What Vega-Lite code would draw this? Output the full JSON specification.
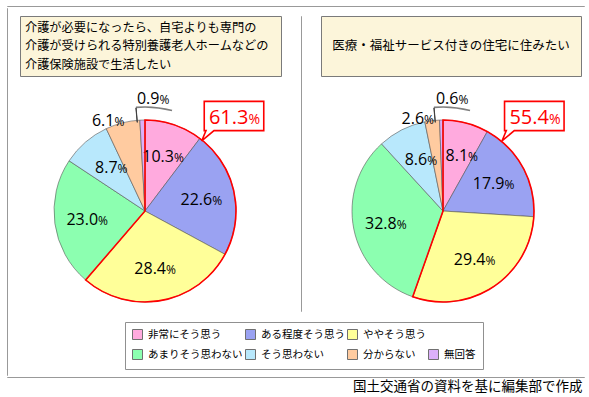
{
  "$schema": "https://vega.github.io/schema/vega-lite/v6.json",
  "background": "white",
  "padding": {"left": 6, "top": 5, "right": 5, "bottom": 4},
  "datasets": {
    "survey": [
      {"q": "施設", "cat": "非常にそう思う", "v": 10.3, "k": 1},
      {"q": "施設", "cat": "ある程度そう思う", "v": 22.6, "k": 2},
      {"q": "施設", "cat": "ややそう思う", "v": 28.4, "k": 3},
      {"q": "施設", "cat": "あまりそう思わない", "v": 23.0, "k": 4},
      {"q": "施設", "cat": "そう思わない", "v": 8.7, "k": 5},
      {"q": "施設", "cat": "分からない", "v": 6.1, "k": 6},
      {"q": "施設", "cat": "無回答", "v": 0.9, "k": 7},
      {"q": "住宅", "cat": "非常にそう思う", "v": 8.1, "k": 1},
      {"q": "住宅", "cat": "ある程度そう思う", "v": 17.9, "k": 2},
      {"q": "住宅", "cat": "ややそう思う", "v": 29.4, "k": 3},
      {"q": "住宅", "cat": "あまりそう思わない", "v": 32.8, "k": 4},
      {"q": "住宅", "cat": "そう思わない", "v": 8.6, "k": 5},
      {"q": "住宅", "cat": "分からない", "v": 2.6, "k": 6},
      {"q": "住宅", "cat": "無回答", "v": 0.6, "k": 7}
    ],
    "titles": [
      {"q": "施設", "title": "介護が必要になったら、自宅よりも専門の\n介護が受けられる特別養護老人ホームなどの\n介護保険施設で生活したい"},
      {"q": "住宅", "title": "医療・福祉サービス付きの住宅に住みたい"}
    ],
    "none": []
  },
  "title": {"text": "国土交通省の資料を基に編集部で作成", "orient": "bottom", "anchor": "end", "font": "Noto Sans CJK JP", "fontSize": 13.5, "fontWeight": "normal", "color": "#000", "offset": 2, "dx": -11},
  "spacing": 0,
  "vconcat": [
    {"width": 577, "height": 0.01, "data": {"name": "none"}, "mark": "point", "view": {"stroke": "#999999", "strokeWidth": 1}},
    {
      "spacing": 0,
      "hconcat": [
        {"width": 0.01, "height": 367, "data": {"name": "none"}, "mark": "point", "view": {"stroke": "#999999", "strokeWidth": 1}},
        {"width": 11, "height": 0.01, "data": {"name": "none"}, "mark": "point"},
        {
          "spacing": 7,
          "bounds": "flush",
          "vconcat": [
            {"width": 0.01, "height": 0.01, "data": {"name": "none"}, "mark": "point"},
            {
              "width": 261, "height": 60,
              "view": {"fill": "#FCF5DA", "stroke": "#7a7a7a", "strokeWidth": 1},
              "data": {"name": "titles"},
              "transform": [{"filter": {"field": "q", "equal": "施設"}}],
              "mark": {"type": "text", "align": "left", "baseline": "middle", "dx": -125.5, "dy": -18.5, "lineBreak": "\n", "lineHeight": 18.5, "font": "Noto Sans CJK JP", "fontSize": 12.2, "color": "#000"},
              "encoding": {"text": {"field": "title", "type": "nominal"}}
            },
            {
              "width": 250, "height": 256,
              "data": {"name": "survey"},
              "transform": [{"filter": {"field": "q", "equal": "施設"}}],
              "layer": [
                {
                  "mark": {"type": "arc", "radius": 91, "stroke": "#555", "strokeWidth": 0.6},
                  "encoding": {
                    "theta": {"field": "v", "type": "quantitative", "stack": true},
                    "order": {"field": "k", "type": "quantitative"},
                    "color": {
                      "field": "cat", "type": "nominal",
                      "scale": {
                        "domain": ["非常にそう思う", "ある程度そう思う", "ややそう思う", "_", "あまりそう思わない", "そう思わない", "分からない", "無回答"],
                        "range": ["#FFAADE", "#9AA2F2", "#FFFF99", "#FFFFFF", "#8CFFB0", "#B8E8FC", "#FFCBA0", "#DCB0FA"]
                      },
                      "legend": {"orient": "none", "legendX": 118, "legendY": 316, "direction": "horizontal", "columns": 4, "gridAlign": "none", "title": null, "symbolType": "square", "symbolSize": 100, "symbolStrokeColor": "#707070", "symbolStrokeWidth": 1, "symbolOpacity": 1, "labelFont": "Noto Sans CJK JP", "labelFontSize": 10.5, "labelColor": "#000", "labelOffset": 5, "labelLimit": 300, "columnPadding": 0, "rowPadding": 5, "padding": 7, "strokeColor": "#909090", "fillColor": "#ffffff", "labelExpr": "datum.label === '_' ? '' : datum.label", "encode": {"symbols": {"update": {"opacity": {"signal": "datum.value === '_' ? 0 : 1"}}}}}
                    }
                  }
                },
                {
                  "mark": {"type": "text", "radius": 58, "align": "right", "baseline": "alphabetic", "dx": 10.5, "dy": 6, "fontSize": 16, "font": "Open Sans", "color": "#000"},
                  "encoding": {
                    "theta": {"field": "v", "type": "quantitative", "stack": true},
                    "order": {"field": "k", "type": "quantitative"},
                    "detail": {"field": "cat", "type": "nominal"},
                    "text": {"field": "v", "type": "quantitative", "format": ".1f", "condition": {"test": "datum.cat === '分からない' || datum.cat === '無回答'", "value": ""}}
                  }
                },
                {
                  "mark": {"type": "text", "radius": 58, "align": "left", "baseline": "alphabetic", "dx": 10.5, "dy": 6, "fontSize": 12, "font": "Open Sans", "color": "#000"},
                  "encoding": {
                    "theta": {"field": "v", "type": "quantitative", "stack": true},
                    "order": {"field": "k", "type": "quantitative"},
                    "detail": {"field": "cat", "type": "nominal"},
                    "text": {"value": "%", "condition": {"test": "datum.cat === '分からない' || datum.cat === '無回答'", "value": ""}}
                  }
                },
                {
                  "mark": {"type": "text", "radius": 92, "align": "right", "baseline": "alphabetic", "dx": -8, "dy": 4.5, "fontSize": 16, "font": "Open Sans", "color": "#000"},
                  "encoding": {
                    "theta": {"field": "v", "type": "quantitative", "stack": true},
                    "order": {"field": "k", "type": "quantitative"},
                    "detail": {"field": "cat", "type": "nominal"},
                    "text": {"field": "v", "type": "quantitative", "format": ".1f", "condition": {"test": "datum.cat !== '分からない'", "value": ""}}
                  }
                },
                {
                  "mark": {"type": "text", "radius": 92, "align": "left", "baseline": "alphabetic", "dx": -8, "dy": 4.5, "fontSize": 12, "font": "Open Sans", "color": "#000"},
                  "encoding": {
                    "theta": {"field": "v", "type": "quantitative", "stack": true},
                    "order": {"field": "k", "type": "quantitative"},
                    "detail": {"field": "cat", "type": "nominal"},
                    "text": {"value": "%", "condition": {"test": "datum.cat !== '分からない'", "value": ""}}
                  }
                },
                {
                  "mark": {"type": "text", "radius": 110, "align": "right", "baseline": "alphabetic", "dx": 17.5, "dy": 3, "fontSize": 16, "font": "Open Sans", "color": "#000"},
                  "encoding": {
                    "theta": {"field": "v", "type": "quantitative", "stack": true},
                    "order": {"field": "k", "type": "quantitative"},
                    "detail": {"field": "cat", "type": "nominal"},
                    "text": {"field": "v", "type": "quantitative", "format": ".1f", "condition": {"test": "datum.cat !== '無回答'", "value": ""}}
                  }
                },
                {
                  "mark": {"type": "text", "radius": 110, "align": "left", "baseline": "alphabetic", "dx": 17.5, "dy": 3, "fontSize": 12, "font": "Open Sans", "color": "#000"},
                  "encoding": {
                    "theta": {"field": "v", "type": "quantitative", "stack": true},
                    "order": {"field": "k", "type": "quantitative"},
                    "detail": {"field": "cat", "type": "nominal"},
                    "text": {"value": "%", "condition": {"test": "datum.cat !== '無回答'", "value": ""}}
                  }
                },
                {
                  "transform": [{"filter": {"field": "cat", "equal": "無回答"}}],
                  "mark": {"type": "arc", "theta": -0.087, "theta2": 0.263, "radius": 104, "radius2": 104, "filled": false, "stroke": "#808080", "strokeWidth": 1.6},
                  "encoding": {}
                },
                {
                  "transform": [{"filter": {"field": "cat", "equal": "無回答"}}],
                  "mark": {"type": "arc", "theta": -0.088, "theta2": -0.086, "radius": 103.5, "radius2": 89, "filled": false, "stroke": "#404040", "strokeWidth": 1},
                  "encoding": {}
                },
                {
                  "transform": [
                    {"filter": {"field": "cat", "oneOf": ["非常にそう思う", "ある程度そう思う", "ややそう思う"]}},
                    {"aggregate": [{"op": "sum", "field": "v", "as": "v"}]}
                  ],
                  "layer": [
                    {
                      "mark": {"type": "arc", "radius": 91, "filled": false, "stroke": "#FF0000", "strokeWidth": 1.6},
                      "encoding": {"theta": {"field": "v", "type": "quantitative", "stack": true}}
                    },
                    {
                      "mark": {"type": "point", "shape": "M-0.93,-0.457L0.93,-0.457L0.93,0.457L-0.625,0.457L-1.01,0.78L-0.875,0.457L-0.93,0.457Z", "size": 4096, "filled": true, "fill": "#ffffff", "stroke": "#FF0000", "strokeWidth": 1.6, "opacity": 1, "x": 214, "y": 33},
                      "encoding": {}
                    },
                    {
                      "mark": {"type": "text", "x": 228.5, "y": 41, "align": "right", "baseline": "alphabetic", "fontSize": 20, "font": "Open Sans", "color": "#FF0000"},
                      "encoding": {"text": {"field": "v", "type": "quantitative", "format": ".1f"}}
                    },
                    {
                      "mark": {"type": "text", "x": 228.5, "y": 41, "align": "left", "baseline": "alphabetic", "fontSize": 14, "font": "Open Sans", "color": "#FF0000"},
                      "encoding": {"text": {"value": "%"}}
                    }
                  ]
                }
              ]
            }
          ]
        },
        {"width": 17.5, "height": 0.01, "data": {"name": "none"}, "mark": "point"},
        {
          "spacing": 7,
          "bounds": "flush",
          "vconcat": [
            {"width": 0.01, "height": 0.01, "data": {"name": "none"}, "mark": "point"},
            {"width": 0.01, "height": 295, "data": {"name": "none"}, "mark": "point", "view": {"stroke": "#999999", "strokeWidth": 1}}
          ]
        },
        {"width": 17.5, "height": 0.01, "data": {"name": "none"}, "mark": "point"},
        {
          "spacing": 7,
          "bounds": "flush",
          "vconcat": [
            {"width": 0.01, "height": 0.01, "data": {"name": "none"}, "mark": "point"},
            {
              "width": 260, "height": 60,
              "view": {"fill": "#FCF5DA", "stroke": "#7a7a7a", "strokeWidth": 1},
              "data": {"name": "titles"},
              "transform": [{"filter": {"field": "q", "equal": "住宅"}}],
              "mark": {"type": "text", "align": "center", "baseline": "middle", "font": "Noto Sans CJK JP", "fontSize": 12.5, "color": "#000"},
              "encoding": {"text": {"field": "title", "type": "nominal"}}
            },
            {
              "width": 244, "height": 256,
              "data": {"name": "survey"},
              "transform": [{"filter": {"field": "q", "equal": "住宅"}}],
              "layer": [
                {
                  "mark": {"type": "arc", "radius": 91, "stroke": "#555", "strokeWidth": 0.6},
                  "encoding": {
                    "theta": {"field": "v", "type": "quantitative", "stack": true},
                    "order": {"field": "k", "type": "quantitative"},
                    "color": {
                      "field": "cat", "type": "nominal",
                      "scale": {
                        "domain": ["非常にそう思う", "ある程度そう思う", "ややそう思う", "_", "あまりそう思わない", "そう思わない", "分からない", "無回答"],
                        "range": ["#FFAADE", "#9AA2F2", "#FFFF99", "#FFFFFF", "#8CFFB0", "#B8E8FC", "#FFCBA0", "#DCB0FA"]
                      },
                      "legend": {"orient": "none", "legendX": 118, "legendY": 316, "direction": "horizontal", "columns": 4, "gridAlign": "none", "title": null, "symbolType": "square", "symbolSize": 100, "symbolStrokeColor": "#707070", "symbolStrokeWidth": 1, "symbolOpacity": 1, "labelFont": "Noto Sans CJK JP", "labelFontSize": 10.5, "labelColor": "#000", "labelOffset": 5, "labelLimit": 300, "columnPadding": 0, "rowPadding": 5, "padding": 7, "strokeColor": "#909090", "fillColor": "#ffffff", "labelExpr": "datum.label === '_' ? '' : datum.label", "encode": {"symbols": {"update": {"opacity": {"signal": "datum.value === '_' ? 0 : 1"}}}}}
                    }
                  }
                },
                {
                  "mark": {"type": "text", "radius": 58, "align": "right", "baseline": "alphabetic", "dx": 10.5, "dy": 6, "fontSize": 16, "font": "Open Sans", "color": "#000"},
                  "encoding": {
                    "theta": {"field": "v", "type": "quantitative", "stack": true},
                    "order": {"field": "k", "type": "quantitative"},
                    "detail": {"field": "cat", "type": "nominal"},
                    "text": {"field": "v", "type": "quantitative", "format": ".1f", "condition": {"test": "datum.cat === '分からない' || datum.cat === '無回答'", "value": ""}}
                  }
                },
                {
                  "mark": {"type": "text", "radius": 58, "align": "left", "baseline": "alphabetic", "dx": 10.5, "dy": 6, "fontSize": 12, "font": "Open Sans", "color": "#000"},
                  "encoding": {
                    "theta": {"field": "v", "type": "quantitative", "stack": true},
                    "order": {"field": "k", "type": "quantitative"},
                    "detail": {"field": "cat", "type": "nominal"},
                    "text": {"value": "%", "condition": {"test": "datum.cat === '分からない' || datum.cat === '無回答'", "value": ""}}
                  }
                },
                {
                  "mark": {"type": "text", "radius": 92, "align": "right", "baseline": "alphabetic", "dx": -8, "dy": 4.5, "fontSize": 16, "font": "Open Sans", "color": "#000"},
                  "encoding": {
                    "theta": {"field": "v", "type": "quantitative", "stack": true},
                    "order": {"field": "k", "type": "quantitative"},
                    "detail": {"field": "cat", "type": "nominal"},
                    "text": {"field": "v", "type": "quantitative", "format": ".1f", "condition": {"test": "datum.cat !== '分からない'", "value": ""}}
                  }
                },
                {
                  "mark": {"type": "text", "radius": 92, "align": "left", "baseline": "alphabetic", "dx": -8, "dy": 4.5, "fontSize": 12, "font": "Open Sans", "color": "#000"},
                  "encoding": {
                    "theta": {"field": "v", "type": "quantitative", "stack": true},
                    "order": {"field": "k", "type": "quantitative"},
                    "detail": {"field": "cat", "type": "nominal"},
                    "text": {"value": "%", "condition": {"test": "datum.cat !== '分からない'", "value": ""}}
                  }
                },
                {
                  "mark": {"type": "text", "radius": 110, "align": "right", "baseline": "alphabetic", "dx": 17.5, "dy": 3, "fontSize": 16, "font": "Open Sans", "color": "#000"},
                  "encoding": {
                    "theta": {"field": "v", "type": "quantitative", "stack": true},
                    "order": {"field": "k", "type": "quantitative"},
                    "detail": {"field": "cat", "type": "nominal"},
                    "text": {"field": "v", "type": "quantitative", "format": ".1f", "condition": {"test": "datum.cat !== '無回答'", "value": ""}}
                  }
                },
                {
                  "mark": {"type": "text", "radius": 110, "align": "left", "baseline": "alphabetic", "dx": 17.5, "dy": 3, "fontSize": 12, "font": "Open Sans", "color": "#000"},
                  "encoding": {
                    "theta": {"field": "v", "type": "quantitative", "stack": true},
                    "order": {"field": "k", "type": "quantitative"},
                    "detail": {"field": "cat", "type": "nominal"},
                    "text": {"value": "%", "condition": {"test": "datum.cat !== '無回答'", "value": ""}}
                  }
                },
                {
                  "transform": [{"filter": {"field": "cat", "equal": "無回答"}}],
                  "mark": {"type": "arc", "theta": -0.087, "theta2": 0.263, "radius": 104, "radius2": 104, "filled": false, "stroke": "#808080", "strokeWidth": 1.6},
                  "encoding": {}
                },
                {
                  "transform": [{"filter": {"field": "cat", "equal": "無回答"}}],
                  "mark": {"type": "arc", "theta": -0.088, "theta2": -0.086, "radius": 103.5, "radius2": 89, "filled": false, "stroke": "#404040", "strokeWidth": 1},
                  "encoding": {}
                },
                {
                  "transform": [
                    {"filter": {"field": "cat", "oneOf": ["非常にそう思う", "ある程度そう思う", "ややそう思う"]}},
                    {"aggregate": [{"op": "sum", "field": "v", "as": "v"}]}
                  ],
                  "layer": [
                    {
                      "mark": {"type": "arc", "radius": 91, "filled": false, "stroke": "#FF0000", "strokeWidth": 1.6},
                      "encoding": {"theta": {"field": "v", "type": "quantitative", "stack": true}}
                    },
                    {
                      "mark": {"type": "point", "shape": "M-0.93,-0.457L0.93,-0.457L0.93,0.457L-0.625,0.457L-1.01,0.78L-0.875,0.457L-0.93,0.457Z", "size": 4096, "filled": true, "fill": "#ffffff", "stroke": "#FF0000", "strokeWidth": 1.6, "opacity": 1, "x": 213.3, "y": 33},
                      "encoding": {}
                    },
                    {
                      "mark": {"type": "text", "x": 228, "y": 41, "align": "right", "baseline": "alphabetic", "fontSize": 20, "font": "Open Sans", "color": "#FF0000"},
                      "encoding": {"text": {"field": "v", "type": "quantitative", "format": ".1f"}}
                    },
                    {
                      "mark": {"type": "text", "x": 228, "y": 41, "align": "left", "baseline": "alphabetic", "fontSize": 14, "font": "Open Sans", "color": "#FF0000"},
                      "encoding": {"text": {"value": "%"}}
                    }
                  ]
                }
              ]
            }
          ]
        },
        {"width": 10, "height": 0.01, "data": {"name": "none"}, "mark": "point"},
        {"width": 0.01, "height": 367, "data": {"name": "none"}, "mark": "point", "view": {"stroke": "#999999", "strokeWidth": 1}}
      ]
    },
    {"width": 577, "height": 0.01, "data": {"name": "none"}, "mark": "point", "view": {"stroke": "#999999", "strokeWidth": 1}}
  ],
  "config": {"view": {"stroke": null}, "font": "Noto Sans CJK JP", "legend": {"gridAlign": "none"}}
}
